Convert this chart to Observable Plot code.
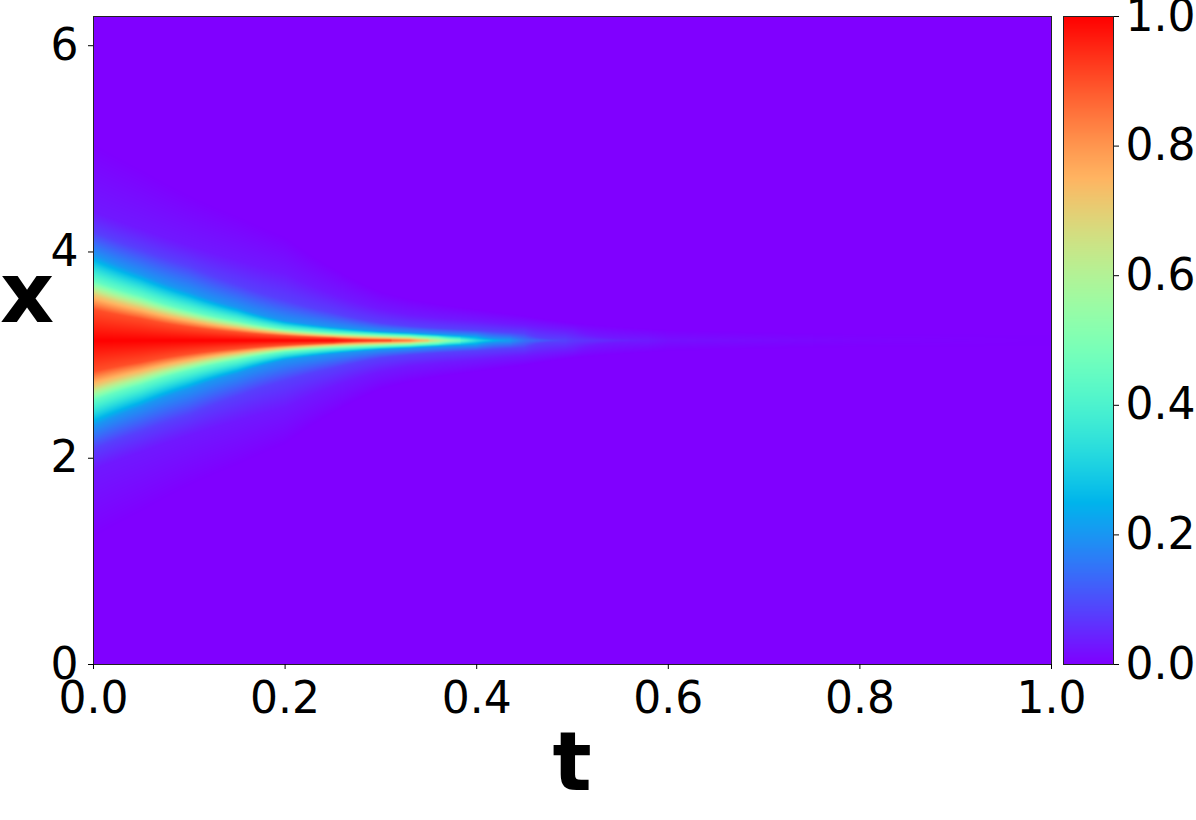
<!DOCTYPE html>
<html><head><meta charset="utf-8">
<script src="https://cdn.jsdelivr.net/npm/d3@7"></script>
<script src="https://cdn.jsdelivr.net/npm/@observablehq/plot@0.6"></script>
<style>
html,body{margin:0;padding:0;background:#fff;overflow:hidden;}
#wrap{position:relative;width:1196px;height:820px;overflow:hidden;}
#wrap svg{position:absolute;top:0;}
</style></head><body><div id="wrap"></div>
<script>
// ---- data ----
const tTicks = [0, 0.2, 0.4, 0.6, 0.8, 1.0];
const xTicks = [0, 2, 4, 6];
const cbTicks = [0, 0.2, 0.4, 0.6, 0.8, 1.0];
const xCenter = Math.PI;              // pulse centre (x ≈ 3.14)
const xMax = 2 * Math.PI;
// time samples and pulse peak value at each
const tSamples   = [0,    0.05, 0.1,  0.15, 0.2,  0.25, 0.3,  0.33, 0.36, 0.4,  0.45, 0.5,  0.6,  0.8,   1.0];
const peakValues = [1,    1,    1,    1,    1,    1,    0.93, 0.85, 0.62, 0.33, 0.15, 0.07, 0.02, 0.005, 0.0];
// half-width (in x) where u falls to each level, per time sample
const levels = [0.9, 0.7, 0.45, 0.2, 0.08, 0.03];
const halfWidth090 = [0.30, 0.21, 0.13, 0.08, 0.045, 0.025, 0.005, null, null, null, null, null, null, null, null];
const halfWidth070 = [0.45, 0.32, 0.21, 0.13, 0.075, 0.045, 0.028, 0.02, null, null, null, null, null, null, null];
const halfWidth045 = [0.58, 0.43, 0.29, 0.19, 0.11,  0.075, 0.055, 0.045, 0.03, null, null, null, null, null, null];
const halfWidth020 = [0.83, 0.64, 0.47, 0.32, 0.19,  0.13,  0.088, 0.075, 0.06, 0.045, null, null, null, null, null];
const halfWidth008 = [1.05, 0.88, 0.72, 0.54, 0.39,  0.27,  0.17,  0.14,  0.12, 0.10,  0.07, null, null, null, null];
const halfWidth003 = [1.25, 1.08, 0.92, 0.78, 0.65,  0.45,  0.30,  0.25,  0.22, 0.19,  0.15, 0.10, null, null, null];
// half-width where the faint tail reaches zero
const tailWidth    = [1.9,  1.65, 1.4,  1.2,  1.0,   0.7,   0.47,  0.4,   0.35, 0.3,   0.24, 0.17, 0.10, 0.06, 0.05];
const widthTable = [halfWidth090, halfWidth070, halfWidth045, halfWidth020, halfWidth008, halfWidth003];

// ---- colour map (matplotlib "rainbow") ----
function rainbow(v) {
  v = Math.max(0, Math.min(1, v));
  const r = Math.min(1, Math.abs(2 * v - 0.5));
  const g = Math.sin(v * Math.PI);
  const b = Math.cos(v * Math.PI / 2);
  return `rgb(${Math.round(r*255)},${Math.round(g*255)},${Math.round(b*255)})`;
}
const colorScale = {type: "linear", domain: [0, 1], interpolate: () => rainbow, clamp: true};

// ---- build grid ----
const nx = 958, ny = 648;
const grid = new Float64Array(nx * ny);
const lerpLog = (a, b, f) => Math.exp(Math.log(a) * (1 - f) + Math.log(b) * f);
for (let i = 0; i < nx; i++) {
  const t = (i + 0.5) / nx;
  let k = d3.bisectRight(tSamples, t) - 1;
  k = Math.max(0, Math.min(k, tSamples.length - 2));
  const f = (t - tSamples[k]) / (tSamples[k + 1] - tSamples[k]);
  const A = peakValues[k] * (1 - f) + peakValues[k + 1] * f;
  const pts = [[0, A]];
  levels.forEach((L, j) => {
    if (L >= A) return;
    const a = widthTable[j][k] ?? 0.003, b = widthTable[j][k + 1] ?? 0.003;
    let d = lerpLog(a, b, f);
    d = Math.max(d, pts[pts.length - 1][0] + 1e-4);
    pts.push([d, L]);
  });
  let tail = lerpLog(tailWidth[k], tailWidth[k + 1], f);
  tail = Math.max(tail, pts[pts.length - 1][0] + 1e-3);
  pts.push([tail, 0]);
  for (let j = 0; j < ny; j++) {
    const x = xMax * (1 - (j + 0.5) / ny);
    const dd = Math.abs(x - xCenter);
    let u = 0;
    for (let m = 1; m < pts.length; m++) {
      if (dd <= pts[m][0]) {
        const [d0, u0] = pts[m - 1], [d1, u1] = pts[m];
        u = u0 + (u1 - u0) * (dd - d0) / (d1 - d0);
        break;
      }
    }
    grid[j * nx + i] = u;
  }
}

const font = {fontFamily: "DejaVu Sans", fontSize: "44px", color: "#000", background: "transparent"};

const main = Plot.plot({
  width: 1196, height: 820,
  marginLeft: 93, marginRight: 145, marginTop: 16, marginBottom: 156,
  style: font,
  x: {domain: [0, 1], ticks: tTicks, tickFormat: d3.format(".1f"), tickSize: 5, tickPadding: 12, label: null},
  y: {domain: [0, xMax], ticks: xTicks, tickFormat: d3.format("d"), tickSize: 5, tickPadding: 10, label: null},
  color: colorScale,
  marks: [
    Plot.raster(grid, {width: nx, height: ny, x1: 0, x2: 1, y1: xMax, y2: 0, fill: d => d, imageRendering: "auto"}),
    Plot.frame({stroke: "#222", strokeWidth: 1}),
    Plot.axisX({ticks: tTicks, tickFormat: d3.format(".1f"), tickSize: 5, tickPadding: 12, label: null}),
    Plot.axisY({ticks: xTicks, tickFormat: d3.format("d"), tickSize: 5, tickPadding: 10, label: null})
  ]
});
const msvg = d3.select(main);
msvg.append("text").attr("x", 27).attr("y", 322).attr("text-anchor", "middle")
  .attr("font-weight", "bold").attr("font-size", 84).attr("fill", "#000").text("x");
msvg.append("text").attr("x", 572).attr("y", 790).attr("text-anchor", "middle")
  .attr("font-weight", "bold").attr("font-size", 82).attr("fill", "#000").text("t");

const cb = Plot.plot({
  width: 133, height: 820,
  marginLeft: 0, marginRight: 83, marginTop: 16, marginBottom: 156,
  style: font,
  x: {domain: [0, 1], axis: null},
  y: {domain: [0, 1], axis: "right", ticks: cbTicks, tickFormat: d3.format(".1f"), tickSize: 5, tickPadding: 7, label: null},
  color: colorScale,
  marks: [
    Plot.raster({x1: 0, x2: 1, y1: 0, y2: 1, fill: (x, y) => y, pixelSize: 1}),
    Plot.frame({stroke: "#222", strokeWidth: 1})
  ]
});

const wrap = document.getElementById("wrap");
main.style.left = "0px";
cb.style.left = "1063px";
wrap.appendChild(main);
wrap.appendChild(cb);
</script>
</body></html>
